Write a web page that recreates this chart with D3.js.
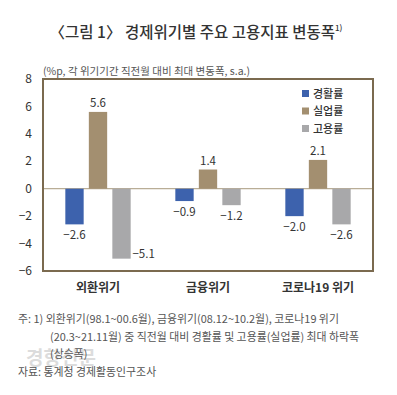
<!DOCTYPE html>
<html>
<head>
<meta charset="utf-8">
<script src="https://cdn.jsdelivr.net/npm/d3@7"></script>
<style>
  body { margin: 0; background: #fff; }
  text { font-family: "Noto Sans CJK KR", "Noto Sans", sans-serif; }
</style>
</head>
<body>
<div id="chart"></div>
<script>
// data
const categories = ['외환위기', '금융위기', '코로나19 위기'];
const seriesNames = ['경활률', '실업률', '고용률'];
const lfpValues = [-2.6, -0.9, -2.0];
const unempValues = [5.6, 1.4, 2.1];
const empValues = [-5.1, -1.2, -2.6];
const yTicks = [8, 6, 4, 2, 0, -2, -4, -6];

const colors = ['#3d62ad', '#a38f70', '#a8a8aa'];

const w = 397, h = 395;
const frame = { left: 43, right: 373, top: 79, bottom: 271 };

const svg = d3.select('#chart').append('svg')
  .attr('width', w)
  .attr('height', h);

const x = d3.scaleBand()
  .domain(categories)
  .range([frame.left, frame.right]);

const xInner = d3.scaleBand()
  .domain(seriesNames)
  .range([0, x.bandwidth()])
  .paddingInner(0.22)
  .paddingOuter(0.95);

const y = d3.scaleLinear()
  .domain([-6, 8])
  .range([frame.bottom, frame.top]);

// title
const title = svg.append('text')
  .attr('x', 196)
  .attr('y', 38)
  .attr('text-anchor', 'middle')
  .attr('font-size', 15.5)
  .attr('font-weight', 500)
  .attr('fill', '#333');
title.append('tspan').text('〈그림 1〉 경제위기별 주요 고용지표 변동폭');
title.append('tspan').attr('font-size', 8).attr('dy', -7).text('1)');

// unit note
svg.append('text')
  .attr('x', 43)
  .attr('y', 75)
  .attr('font-size', 10.5)
  .attr('fill', '#555')
  .text('(%p, 각 위기기간 직전월 대비 최대 변동폭, s.a.)');

// y labels
svg.append('g')
  .selectAll('text')
  .data(yTicks)
  .join('text')
  .attr('x', 32)
  .attr('y', d => y(d))
  .attr('dy', '0.35em')
  .attr('text-anchor', 'end')
  .attr('font-size', 12)
  .attr('fill', '#333')
  .text(d => d < 0 ? '−' + Math.abs(d) : d);

// zero line
svg.append('line')
  .attr('x1', frame.left)
  .attr('x2', frame.right)
  .attr('y1', y(0))
  .attr('y2', y(0))
  .attr('stroke', '#a8987c')
  .attr('stroke-width', 1);

// bars
const rows = categories.map((c, i) => ({
  cat: c,
  vals: [lfpValues[i], unempValues[i], empValues[i]]
}));

const fmt = v => (v < 0 ? '−' : '') + Math.abs(v).toFixed(1);

const groups = svg.append('g')
  .selectAll('g')
  .data(rows)
  .join('g')
  .attr('transform', d => `translate(${x(d.cat)},0)`);

const cells = groups.selectAll('g')
  .data(d => d.vals.map((v, j) => ({ name: seriesNames[j], v, j, cat: d.cat })))
  .join('g');

cells.append('rect')
  .attr('x', d => xInner(d.name))
  .attr('width', xInner.bandwidth())
  .attr('y', d => y(Math.max(0, d.v)))
  .attr('height', d => Math.abs(y(d.v) - y(0)))
  .attr('fill', d => colors[d.j]);

// value labels; the big gray one in the first group sits to the right
cells.append('text')
  .attr('x', d => (d.cat === categories[0] && d.j === 2)
    ? xInner(d.name) + xInner.bandwidth() + 13
    : xInner(d.name) + xInner.bandwidth() / 2)
  .attr('y', d => {
    if (d.cat === categories[0] && d.j === 2) return y(d.v) - 1;
    return d.v >= 0 ? y(d.v) - 5 : y(d.v) + 15;
  })
  .attr('text-anchor', 'middle')
  .attr('font-size', 11.5)
  .attr('fill', '#333')
  .text(d => fmt(d.v));

// frame
svg.append('rect')
  .attr('x', frame.left)
  .attr('y', frame.top)
  .attr('width', frame.right - frame.left)
  .attr('height', frame.bottom - frame.top)
  .attr('fill', 'none')
  .attr('stroke', '#7b6a4f')
  .attr('stroke-width', 2);

// category labels
svg.append('g')
  .selectAll('text')
  .data(categories)
  .join('text')
  .attr('x', d => x(d) + x.bandwidth() / 2)
  .attr('y', 292)
  .attr('text-anchor', 'middle')
  .attr('font-size', 12)
  .attr('font-weight', 700)
  .attr('fill', '#333')
  .text(d => d);

// legend
const legend = svg.append('g')
  .selectAll('g')
  .data(seriesNames)
  .join('g')
  .attr('transform', (d, i) => `translate(302,${94 + i * 17.5})`);

legend.append('rect')
  .attr('x', 0)
  .attr('y', -4)
  .attr('width', 7)
  .attr('height', 7)
  .attr('fill', (d, i) => colors[i]);

legend.append('text')
  .attr('x', 11)
  .attr('dy', '0.35em')
  .attr('font-size', 11)
  .attr('font-weight', 500)
  .attr('fill', '#333')
  .text(d => d);

// watermark (drawn under the notes)
svg.append('text')
  .attr('x', 26)
  .attr('y', 365)
  .attr('font-size', 19)
  .attr('font-weight', 700)
  .attr('fill', '#bbb')
  .attr('opacity', 0.5)
  .text('경향신문');

// notes
const notes = [
  { x: 18, y: 323, t: '주: 1) 외환위기(98.1~00.6월), 금융위기(08.12~10.2월), 코로나19 위기' },
  { x: 50, y: 341, t: '(20.3~21.11월) 중 직전월 대비 경활률 및 고용률(실업률) 최대 하락폭' },
  { x: 50, y: 358, t: '(상승폭)' },
  { x: 18, y: 376, t: '자료: 통계청 경제활동인구조사' }
];

svg.append('g')
  .selectAll('text')
  .data(notes)
  .join('text')
  .attr('x', d => d.x)
  .attr('y', d => d.y)
  .attr('font-size', 10.9)
  .attr('fill', '#555')
  .text(d => d.t);
</script>
</body>
</html>
